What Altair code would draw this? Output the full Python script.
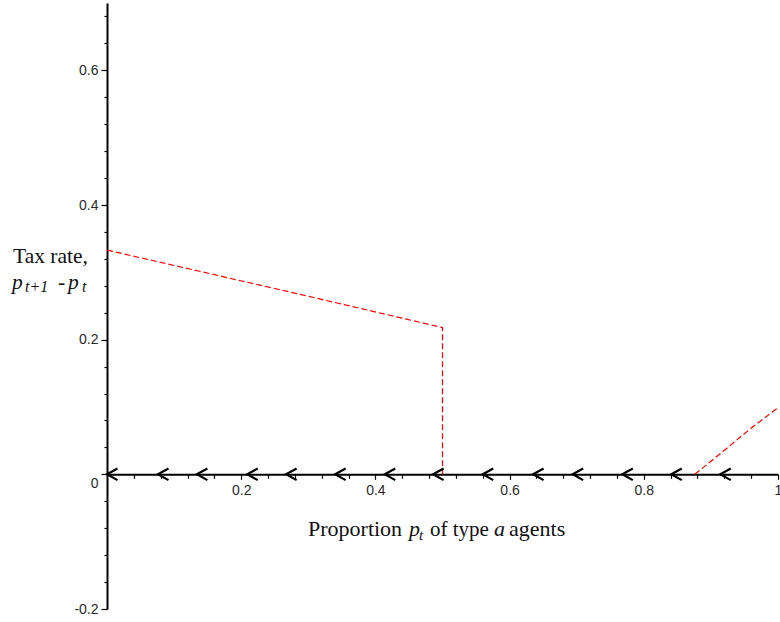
import altair as alt
import pandas as pd

# ---- data ----
seg1_x = [0.0, 0.25, 0.5, 0.5]
seg1_y = [0.333, 0.276, 0.218, 0.0]
seg2_x = [0.876, 0.918, 0.958, 1.0]
seg2_y = [0.0, 0.034, 0.067, 0.099]

arrow_x = [0.0, 0.076, 0.134, 0.209, 0.267, 0.340, 0.414, 0.486,
           0.560, 0.635, 0.694, 0.768, 0.841, 0.914]

x_minor = [0.04, 0.08, 0.12, 0.16, 0.24, 0.28, 0.32, 0.36,
           0.44, 0.48, 0.52, 0.56, 0.64, 0.68, 0.72, 0.76,
           0.84, 0.88, 0.92, 0.96]
x_major = [0.2, 0.4, 0.6, 0.8, 1.0]
x_major_labels = ["0.2", "0.4", "0.6", "0.8", "1"]

y_minor = [-0.16, -0.12, -0.08, -0.04, 0.04, 0.08, 0.12, 0.16,
           0.24, 0.28, 0.32, 0.36, 0.44, 0.48, 0.52, 0.56, 0.64, 0.68]
y_major = [-0.2, 0.0, 0.2, 0.4, 0.6]
y_major_labels = ["-0.2", "0", "0.2", "0.4", "0.6"]

W, H = 671, 606
RED = "#ff0000"
LABEL_FONT = "Liberation Sans"
SERIF = "Liberation Serif"


def label_expr(values, labels):
    expr = "''"
    for v, l in reversed(list(zip(values, labels))):
        expr = f"abs(datum.value - ({v})) < 1e-6 ? '{l}' : ({expr})"
    return expr


line_df = pd.DataFrame({
    "x": seg1_x + seg2_x,
    "y": seg1_y + seg2_y,
    "seg": ["a"] * len(seg1_x) + ["b"] * len(seg2_x),
    "ord": list(range(len(seg1_x))) + list(range(len(seg2_x))),
})

x_scale = alt.Scale(domain=[0, 1], nice=False, zero=False)
y_scale = alt.Scale(domain=[-0.2, 0.7], nice=False, zero=False)
X_OFFSET = -(H * 0.2 / 0.9)

x_axis = alt.Axis(
    orient="bottom", values=x_major, labelExpr=label_expr(x_major, x_major_labels),
    offset=X_OFFSET, title=None, grid=False,
    domainColor="black", domainWidth=2, tickColor="black", tickWidth=1.2,
    tickSize=5, labelPadding=4, labelFont=LABEL_FONT, labelFontSize=14,
    labelColor="#2a2a2a", labelFlush=False, labelOverlap=False, labelBound=False,
)
y_axis = alt.Axis(
    orient="left", values=y_major, labelExpr=label_expr(y_major, y_major_labels),
    title=None, grid=False,
    domainColor="black", domainWidth=2, tickColor="black", tickWidth=1.2,
    tickSize=6, labelPadding=3, labelFont=LABEL_FONT, labelFontSize=14,
    labelColor="#2a2a2a", labelFlush=False, labelOverlap=False, labelBound=False,
    labelOffset={"condition": {"test": "abs(datum.value) < 1e-6", "value": 9}, "value": 0},
)
x_axis_minor = alt.Axis(
    orient="bottom", values=x_minor, labels=False, domain=False, offset=X_OFFSET,
    title=None, grid=False, tickColor="black", tickWidth=1.2, tickSize=4,
)
y_axis_minor = alt.Axis(
    orient="left", values=y_minor, labels=False, domain=False,
    title=None, grid=False, tickColor="black", tickWidth=1.2, tickSize=3,
)

red = alt.Chart(line_df).mark_line(
    color=RED, strokeWidth=1.2, strokeDash=[6, 3]
).encode(
    x=alt.X("x:Q", scale=x_scale, axis=x_axis),
    y=alt.Y("y:Q", scale=y_scale, axis=y_axis),
    detail="seg:N",
    order="ord:Q",
)

arrows = alt.Chart(pd.DataFrame({"x": arrow_x})).mark_point(
    shape="M 2 -1.1 L 0 0 L 2 1.1", filled=False, color="black",
    strokeWidth=2.2, size=110, opacity=1, strokeJoin="miter",
).encode(
    x=alt.X("x:Q", scale=x_scale, axis=x_axis_minor),
    y=alt.YDatum(0, scale=y_scale, axis=y_axis_minor),
)

one = pd.DataFrame({"k": [0]})


def txt(s, x, y, size=22, italic=False):
    return alt.Chart(one).mark_text(
        text=s, align="left", baseline="alphabetic", font=SERIF,
        fontSize=size, fontStyle="italic" if italic else "normal",
        color="#111111",
    ).encode(x=alt.value(x), y=alt.value(y))


texts = [
    # y-axis title
    txt("Tax rate,", -94, 260, size=21.5),
    txt("p", -95, 286, size=21.5, italic=True),
    txt("t+1", -82, 289, size=16, italic=True),
    txt("-", -49, 286, size=21.5),
    txt("p", -39, 286, size=21.5, italic=True),
    txt("t", -25, 289, size=16, italic=True),
    # x-axis title
    txt("Proportion", 201, 533),
    txt("p", 302, 533, italic=True),
    txt("t", 312, 537, size=15, italic=True),
    txt("of type", 323, 533, size=21),
    txt("a", 387, 533, italic=True),
    txt("agents", 402, 533),
]

chart = alt.layer(red, arrows, *texts).resolve_axis(
    x="independent", y="independent"
).properties(
    width=W, height=H,
    autosize=alt.AutoSizeParams(type="none"),
    padding={"left": 107, "top": 3, "right": 2, "bottom": 13},
).configure_view(stroke=None)

chart.save("out.html", embed_options={"renderer": "svg", "actions": False})
